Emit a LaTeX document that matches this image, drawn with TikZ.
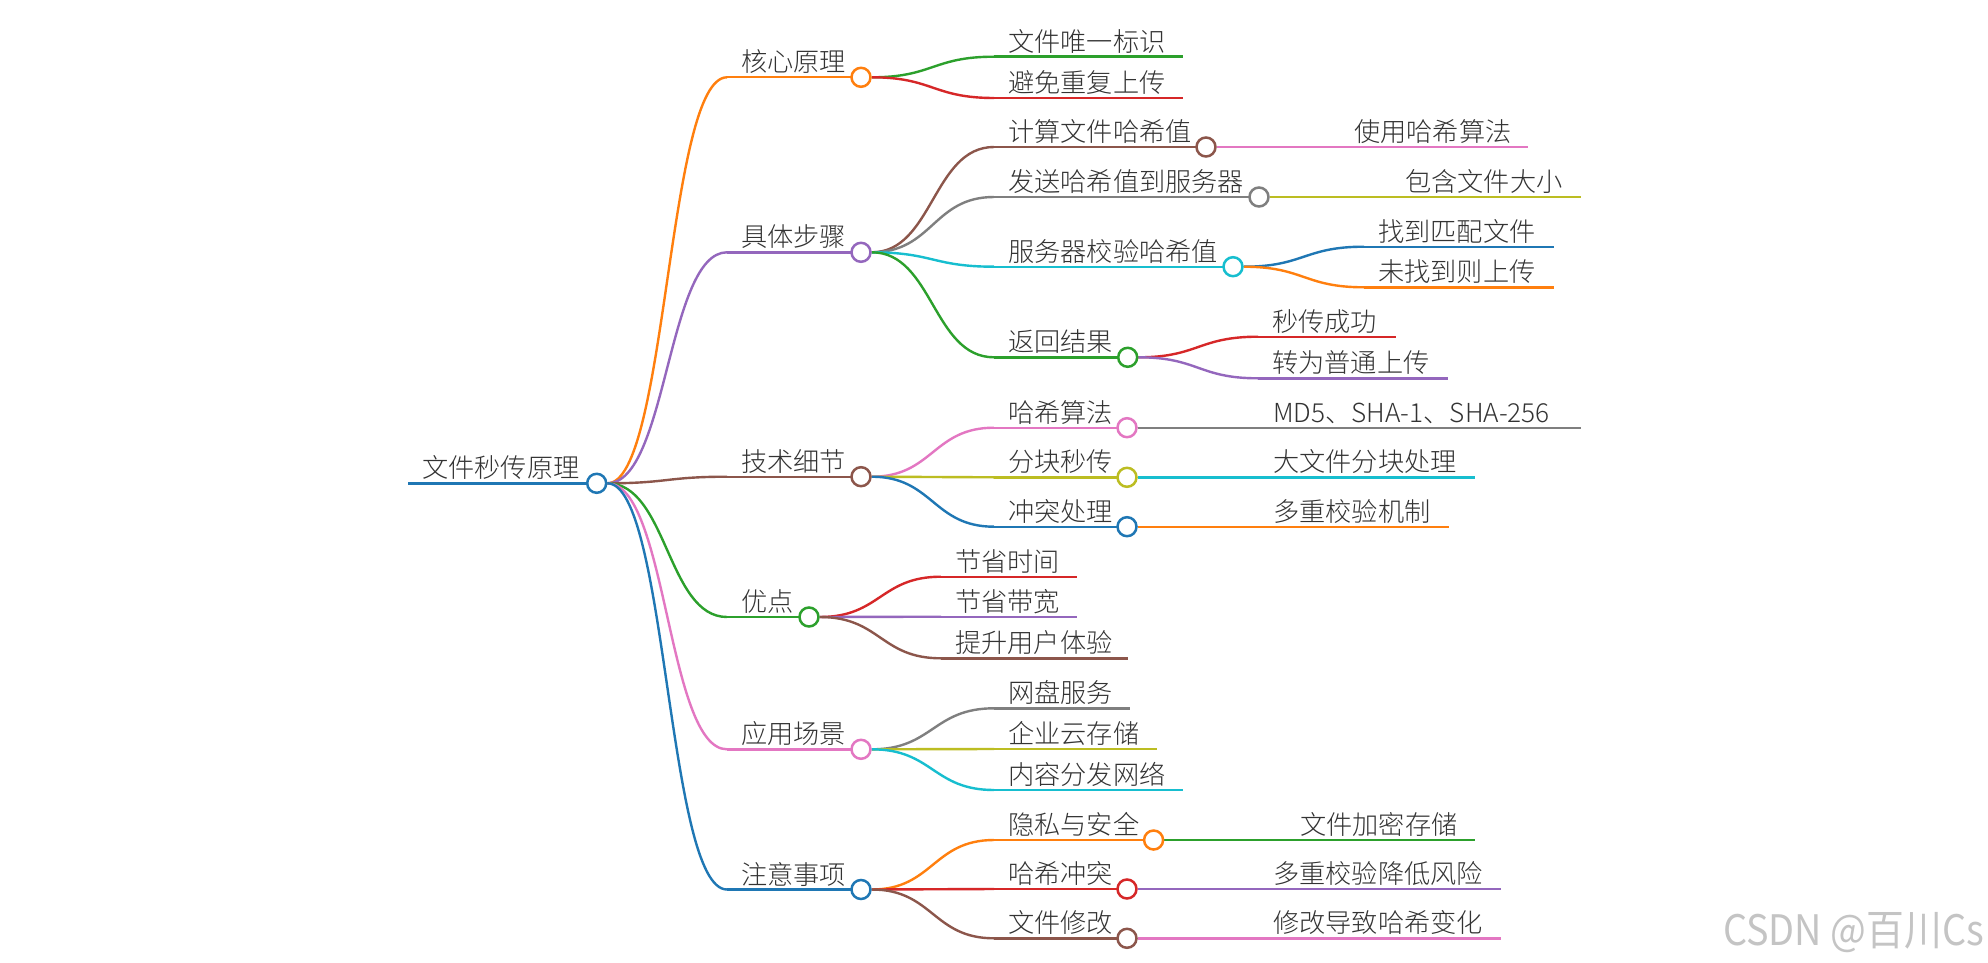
\documentclass[tikz,border=0pt]{standalone}
\usepackage{fontspec}
\newfontfamily\cjk{Noto Sans CJK SC}[UprightFont=* Light]
\newfontfamily\wmfont{Noto Sans CJK SC}
\usetikzlibrary{calc}
\pgfdeclarelayer{fg}
\pgfsetlayers{main,fg}
\definecolor{cblue}{HTML}{1F77B4}
\definecolor{corange}{HTML}{FF7F0E}
\definecolor{cgreen}{HTML}{2CA02C}
\definecolor{cred}{HTML}{D62728}
\definecolor{cpurple}{HTML}{9467BD}
\definecolor{cbrown}{HTML}{8C564B}
\definecolor{cpink}{HTML}{E377C2}
\definecolor{cgray}{HTML}{7F7F7F}
\definecolor{colive}{HTML}{BCBD22}
\definecolor{ccyan}{HTML}{17BECF}
\definecolor{txt}{HTML}{333333}
\definecolor{wmark}{HTML}{C4C4C4}
\tikzset{
  edge/.style={line width=2.4pt},
  rootedge/.style={line width=3pt},
  lbl/.style={anchor=base west, inner sep=0pt, text=txt, font=\cjk\fontsize{26.2}{30}\selectfont},
  dot/.style={circle, fill=white, line width=2.5pt, minimum size=19pt, inner sep=0pt},
}
% name, colour, x start, y, x end, text
\newcommand\tnode[6]{%
  \coordinate (#1) at (#3,#4);
  \coordinate (#1e) at (#5,#4);
  \draw[edge,draw=#2] (#1) -- (#1e);
  \node[lbl] (#1t) at ($(#1)+(14,-5.5)$) {#6};}
\newcommand\tdot[2]{%
  \begin{pgfonlayer}{fg}\node[dot,draw=#2] (#1c) at (#1e) {};\end{pgfonlayer}}
% colour, source, target
\newcommand\mlink[3]{%
  \draw[edge,draw=#1] let \p1=(#2), \p2=(#3) in
    (\p1) .. controls ({(\x1+\x2)/2},\y1) and ({(\x1+\x2)/2},\y2) .. (\p2);}
\begin{document}
\begin{tikzpicture}[x=1pt,y=-1pt]
\fill[white] (0,0) rectangle (1988,963);
\useasboundingbox (0,0) rectangle (1988,963);
% root
\coordinate (r) at (408,483.3);
\coordinate (re) at (596.7,483.3);
\draw[rootedge,draw=cblue] (r) -- (re);
\node[lbl] (rt) at ($(r)+(14,-5.5)$) {文件秒传原理};
\tdot{r}{cblue}
% level 1
\tnode{a}{corange}{727}{77.3}{861}{核心原理}\tdot{a}{corange}\mlink{corange}{rc.east}{a}
\tnode{b}{cpurple}{727}{252.3}{861}{具体步骤}\tdot{b}{cpurple}\mlink{cpurple}{rc.east}{b}
\tnode{c}{cbrown}{727}{476.7}{861}{技术细节}\tdot{c}{cbrown}\mlink{cbrown}{rc.east}{c}
\tnode{d}{cgreen}{727}{617}{809}{优点}\tdot{d}{cgreen}\mlink{cgreen}{rc.east}{d}
\tnode{e}{cpink}{727}{749.3}{861}{应用场景}\tdot{e}{cpink}\mlink{cpink}{rc.east}{e}
\tnode{f}{cblue}{727}{889.5}{861}{注意事项}\tdot{f}{cblue}\mlink{cblue}{rc.east}{f}
% 核心原理
\tnode{aa}{cgreen}{994}{56.7}{1183}{文件唯一标识}\mlink{cgreen}{ac.east}{aa}
\tnode{ab}{cred}{994}{98}{1183}{避免重复上传}\mlink{cred}{ac.east}{ab}
% 具体步骤
\tnode{ba}{cbrown}{994}{147}{1206}{计算文件哈希值}\tdot{ba}{cbrown}\mlink{cbrown}{bc.east}{ba}
\tnode{baa}{cpink}{1340}{147}{1528}{使用哈希算法}\mlink{cpink}{bac.east}{baa}
\tnode{bb}{cgray}{994}{197}{1259}{发送哈希值到服务器}\tdot{bb}{cgray}\mlink{cgray}{bc.east}{bb}
\tnode{bba}{colive}{1391}{197}{1581}{包含文件大小}\mlink{colive}{bbc.east}{bba}
\tnode{bx}{ccyan}{994}{266.7}{1233}{服务器校验哈希值}\tdot{bx}{ccyan}\mlink{ccyan}{bc.east}{bx}
\tnode{bxa}{cblue}{1364}{246.7}{1554}{找到匹配文件}\mlink{cblue}{bxc.east}{bxa}
\tnode{bxb}{corange}{1364}{287.3}{1554}{未找到则上传}\mlink{corange}{bxc.east}{bxb}
\tnode{bd}{cgreen}{994}{357.3}{1127.7}{返回结果}\tdot{bd}{cgreen}\mlink{cgreen}{bc.east}{bd}
\tnode{bda}{cred}{1258}{336.7}{1396}{秒传成功}\mlink{cred}{bdc.east}{bda}
\tnode{bdb}{cpurple}{1258}{378.3}{1448}{转为普通上传}\mlink{cpurple}{bdc.east}{bdb}
% 技术细节
\tnode{ca}{cpink}{994}{427.7}{1127}{哈希算法}\tdot{ca}{cpink}\mlink{cpink}{cc.east}{ca}
\tnode{caa}{cgray}{1259}{427.7}{1581}{MD5、SHA-1、SHA-256}\mlink{cgray}{cac.east}{caa}
\tnode{cb}{colive}{994}{477.3}{1127}{分块秒传}\tdot{cb}{colive}\mlink{colive}{cc.east}{cb}
\tnode{cba}{ccyan}{1259}{477.3}{1475}{大文件分块处理}\mlink{ccyan}{cbc.east}{cba}
\tnode{cx}{cblue}{994}{526.7}{1127}{冲突处理}\tdot{cx}{cblue}\mlink{cblue}{cc.east}{cx}
\tnode{cxa}{corange}{1259}{526.7}{1449}{多重校验机制}\mlink{corange}{cxc.east}{cxa}
% 优点
\tnode{da}{cred}{941}{576.7}{1077}{节省时间}\mlink{cred}{dc.east}{da}
\tnode{db}{cpurple}{941}{616.7}{1077}{节省带宽}\mlink{cpurple}{dc.east}{db}
\tnode{dd}{cbrown}{941}{658.3}{1128}{提升用户体验}\mlink{cbrown}{dc.east}{dd}
% 应用场景
\tnode{ea}{cgray}{994}{708.3}{1130}{网盘服务}\mlink{cgray}{ec.east}{ea}
\tnode{eb}{colive}{994}{749}{1157}{企业云存储}\mlink{colive}{ec.east}{eb}
\tnode{ed}{ccyan}{994}{790}{1183}{内容分发网络}\mlink{ccyan}{ec.east}{ed}
% 注意事项
\tnode{fa}{corange}{994}{840}{1153.6}{隐私与安全}\tdot{fa}{corange}\mlink{corange}{fc.east}{fa}
\tnode{faa}{cgreen}{1286}{840}{1475}{文件加密存储}\mlink{cgreen}{fac.east}{faa}
\tnode{fb}{cred}{994}{889}{1127}{哈希冲突}\tdot{fb}{cred}\mlink{cred}{fc.east}{fb}
\tnode{fba}{cpurple}{1259}{889}{1501}{多重校验降低风险}\mlink{cpurple}{fbc.east}{fba}
\tnode{fx}{cbrown}{994}{938.3}{1127}{文件修改}\tdot{fx}{cbrown}\mlink{cbrown}{fc.east}{fx}
\tnode{fxa}{cpink}{1259}{938.3}{1501}{修改导致哈希变化}\mlink{cpink}{fxc.east}{fxa}
% watermark
\node[anchor=base east, inner sep=0pt, text=wmark, font=\wmfont\fontsize{42}{46}\selectfont, xscale=0.9] (wm) at (1984,945) {CSDN @百川Cs};
\end{tikzpicture}
\end{document}
